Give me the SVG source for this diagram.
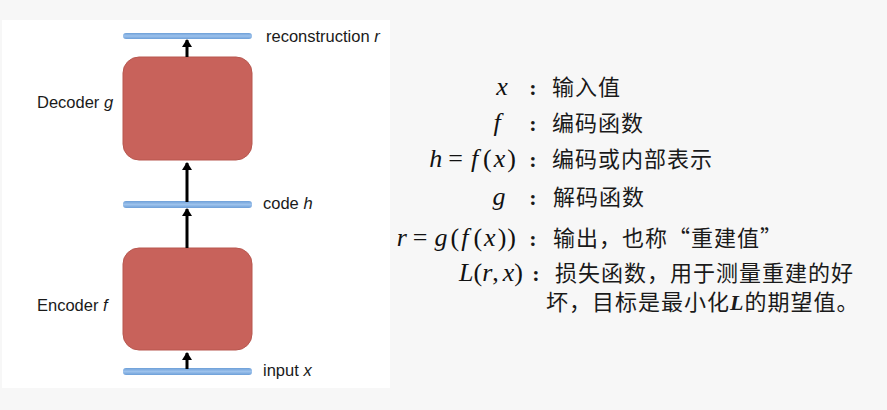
<svg xmlns="http://www.w3.org/2000/svg" width="887" height="410" viewBox="0 0 887 410">
<style>
.box{fill:#c8625b;stroke:#b8574f;stroke-width:1}
.bar{fill:url(#barg)}
.lbl{font-family:"Liberation Sans",Arial,sans-serif;font-size:16.5px;fill:#1a1a1a}
.it{font-style:italic}
.math{font-family:"Liberation Serif","Times New Roman",serif;font-size:26px;fill:#111}
.cn{font-family:"Noto Sans CJK SC","Noto Sans",sans-serif;font-size:22px;letter-spacing:1px;fill:#1a1a1a}
.colon{font-family:"Liberation Serif",serif;font-size:22px;font-weight:bold;fill:#1a1a1a}
.conn{stroke:#000;stroke-width:3;fill:none}
</style>
<defs>
<linearGradient id="barg" x1="0" y1="0" x2="0" y2="1">
<stop offset="0" stop-color="#6d9fd8"/>
<stop offset="0.5" stop-color="#9dc2ec"/>
<stop offset="1" stop-color="#6d9fd8"/>
</linearGradient>
<marker id="ah" markerWidth="10" markerHeight="10" refX="7" refY="5" orient="auto" markerUnits="userSpaceOnUse">
<path d="M0,0 L8,5 L0,10 Z" fill="#000"/>
</marker>
</defs>
<rect x="0" y="0" width="887" height="410" fill="#f7f7f7"/>
<rect x="2" y="20" width="388" height="368" fill="#ffffff"/>

<g id="bar-reconstruction">
<rect class="bar" x="123" y="33" width="129" height="6" rx="3"/>
<text class="lbl" x="266" y="42">reconstruction <tspan class="it">r</tspan></text>
</g>
<g id="decoder">
<rect class="box" x="123" y="57" width="129" height="103" rx="16"/>
<text class="lbl" x="37" y="108">Decoder <tspan class="it">g</tspan></text>
</g>
<g id="bar-code">
<rect class="bar" x="123" y="201" width="129" height="7" rx="3"/>
<text class="lbl" x="263" y="209">code <tspan class="it">h</tspan></text>
</g>
<g id="encoder">
<rect class="box" x="123" y="248" width="129" height="102" rx="16"/>
<text class="lbl" x="37" y="311">Encoder <tspan class="it">f</tspan></text>
</g>
<g id="bar-input">
<rect class="bar" x="123" y="368" width="129" height="7" rx="3"/>
<text class="lbl" x="263" y="376">input <tspan class="it">x</tspan></text>
</g>

<g id="connectors">
<line class="conn" x1="187" y1="57" x2="187" y2="40" marker-end="url(#ah)"/>
<line class="conn" x1="187" y1="202" x2="187" y2="163" marker-end="url(#ah)"/>
<line class="conn" x1="187" y1="248" x2="187" y2="209" marker-end="url(#ah)"/>
<line class="conn" x1="187" y1="369" x2="187" y2="353" marker-end="url(#ah)"/>
</g>

<g id="legend">
<text class="math" x="502" y="95" text-anchor="middle"><tspan class="it">x</tspan></text>
<text class="colon" x="533" y="95" text-anchor="middle">:</text>
<text class="cn" x="552" y="95">输入值</text>

<text class="math" x="497" y="131" text-anchor="middle"><tspan class="it">f</tspan></text>
<text class="colon" x="533" y="131" text-anchor="middle">:</text>
<text class="cn" x="552" y="131">编码函数</text>

<text class="math" x="516" y="167" text-anchor="end"><tspan class="it">h</tspan><tspan dx="6">=</tspan><tspan class="it" dx="8">f</tspan><tspan dx="5">(</tspan><tspan class="it" dx="2">x</tspan><tspan dx="2">)</tspan></text>
<text class="colon" x="533" y="167" text-anchor="middle">:</text>
<text class="cn" x="552" y="167">编码或内部表示</text>

<text class="math" x="499" y="205" text-anchor="middle"><tspan class="it">g</tspan></text>
<text class="colon" x="533" y="205" text-anchor="middle">:</text>
<text class="cn" x="553" y="205">解码函数</text>

<text class="math" x="516" y="246" text-anchor="end"><tspan class="it">r</tspan><tspan dx="6">=</tspan><tspan class="it" dx="7">g</tspan><tspan dx="3">(</tspan><tspan class="it" dx="2">f</tspan><tspan dx="5">(</tspan><tspan class="it" dx="2">x</tspan><tspan dx="2">)</tspan><tspan dx="1">)</tspan></text>
<text class="colon" x="533" y="246" text-anchor="middle">:</text>
<text class="cn" x="553" y="246">输出，也称“重建值”</text>

<text class="math" x="523" y="281" text-anchor="end"><tspan class="it">L</tspan>(<tspan class="it">r</tspan>,<tspan class="it" dx="4">x</tspan>)</text>
<text class="colon" x="536" y="281" text-anchor="middle">:</text>
<text class="cn" x="555" y="281">损失函数，用于测量重建的好</text>
<text class="cn" x="546" y="310">坏，目标是最小化<tspan font-family="Liberation Serif, serif" font-style="italic" font-weight="bold">L</tspan>的期望值。</text>
</g>
</svg>
